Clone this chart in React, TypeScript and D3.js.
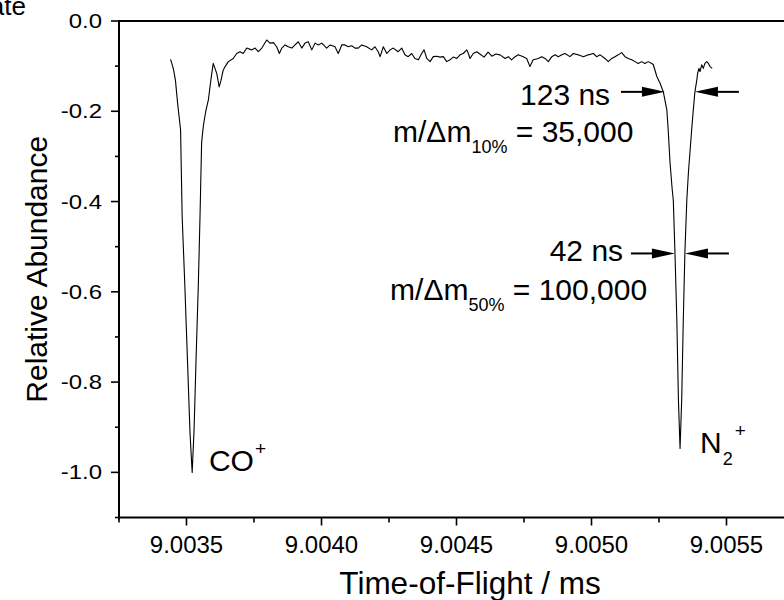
import React from "react";
import * as d3 from "d3";

const W = 784;
const H = 600;

// axes
const xDomain = [9.00325, 9.00575];
const yDomain = [-1.1, 0.0];
const xMajorTicks = [9.0035, 9.004, 9.0045, 9.005, 9.0055];
const xTickLabels = ["9.0035", "9.0040", "9.0045", "9.0050", "9.0055"];
const xMinorTicks = [9.00325, 9.00375, 9.00425, 9.00475, 9.00525, 9.00575];
const yMajorTicks = [0, -0.2, -0.4, -0.6, -0.8, -1.0];
const yTickLabels = ["0.0", "-0.2", "-0.4", "-0.6", "-0.8", "-1.0"];
const yMinorTicks = [-0.1, -0.3, -0.5, -0.7, -0.9, -1.1];
const xTitle = "Time-of-Flight / ms";
const yTitle = "Relative Abundance";

// CO+ peak region (time in ms, relative abundance)
const coTime = [
  9.003441, 9.003451, 9.003459, 9.003467, 9.003478, 9.003484, 9.003494, 9.003504,
  9.003513, 9.003521, 9.003528, 9.003535, 9.003544, 9.00355, 9.003556, 9.003562,
  9.003571, 9.003581, 9.003591, 9.003599, 9.003612, 9.003621, 9.003628, 9.003636,
];
const coValue = [
  -0.085, -0.105, -0.131, -0.182, -0.241, -0.434, -0.589, -0.758,
  -0.913, -1.0, -0.906, -0.758, -0.58, -0.434, -0.27, -0.234,
  -0.201, -0.175, -0.127, -0.094, -0.116, -0.146, -0.131, -0.109,
];

// baseline between the peaks
const baseTime = [
  9.003643, 9.003655, 9.003673, 9.003686, 9.003698, 9.00371, 9.003723, 9.003741,
  9.003754, 9.003766, 9.003779, 9.003797, 9.003809, 9.003822, 9.003834, 9.003844,
  9.003853, 9.003865, 9.003877, 9.00389, 9.003902, 9.003914, 9.003927, 9.003939,
  9.003951, 9.003964, 9.003976, 9.003988, 9.004001, 9.004019, 9.004032, 9.00405,
  9.004062, 9.004075, 9.004087, 9.004099, 9.004112, 9.004124, 9.004136, 9.004149,
  9.004167, 9.004186, 9.004198, 9.00421, 9.004217, 9.004229, 9.004242, 9.004254,
  9.004266, 9.004284, 9.004297, 9.004309, 9.004321, 9.004334, 9.004346, 9.004359,
  9.004371, 9.00438, 9.00439, 9.004402, 9.004414, 9.004427, 9.004439, 9.004451,
  9.004464, 9.004476, 9.004488, 9.004501, 9.004513, 9.004525, 9.004538, 9.004544,
  9.00455, 9.004562, 9.004575, 9.004584, 9.004602, 9.004617, 9.004631, 9.004646,
  9.004661, 9.00468, 9.004692, 9.004704, 9.004717, 9.004729, 9.004747, 9.00476,
  9.004772, 9.004784, 9.004803, 9.004816, 9.004828, 9.00484, 9.004853, 9.004865,
  9.004877, 9.00489, 9.004902, 9.00492, 9.004933, 9.004951, 9.00497, 9.004988,
  9.005007, 9.005019, 9.005032, 9.00505, 9.005062, 9.005075, 9.005087, 9.005099,
  9.005112, 9.005124, 9.005136, 9.005149, 9.005161, 9.005173, 9.005186, 9.005198,
  9.00521, 9.005223, 9.005229,
];
const baseValue = [
  -0.101, -0.09, -0.083, -0.072, -0.068, -0.072, -0.06, -0.064,
  -0.06, -0.068, -0.06, -0.042, -0.049, -0.048, -0.057, -0.072,
  -0.06, -0.053, -0.057, -0.06, -0.053, -0.046, -0.06, -0.049,
  -0.046, -0.064, -0.049, -0.053, -0.049, -0.06, -0.053, -0.057,
  -0.072, -0.053, -0.053, -0.057, -0.055, -0.06, -0.06, -0.053,
  -0.057, -0.064, -0.057, -0.068, -0.079, -0.057, -0.072, -0.064,
  -0.06, -0.068, -0.06, -0.075, -0.079, -0.072, -0.083, -0.086,
  -0.072, -0.064, -0.083, -0.09, -0.079, -0.078, -0.08, -0.079,
  -0.09, -0.086, -0.08, -0.083, -0.075, -0.072, -0.064, -0.072,
  -0.083, -0.072, -0.068, -0.072, -0.08, -0.069, -0.078, -0.073,
  -0.075, -0.083, -0.079, -0.086, -0.079, -0.075, -0.079, -0.083,
  -0.101, -0.086, -0.083, -0.079, -0.083, -0.09, -0.079, -0.075,
  -0.079, -0.075, -0.072, -0.079, -0.072, -0.075, -0.079, -0.075,
  -0.072, -0.079, -0.075, -0.083, -0.09, -0.083, -0.079, -0.075,
  -0.07, -0.079, -0.083, -0.086, -0.09, -0.094, -0.09, -0.094,
  -0.09, -0.094, -0.097,
];

// N2+ peak region
const n2Time = [
  9.005242, 9.005254, 9.005266, 9.005279, 9.005284, 9.005291, 9.005299, 9.005303,
  9.005309, 9.005316, 9.005322, 9.005328, 9.005334, 9.00534, 9.005346, 9.005353,
  9.005359, 9.005371, 9.005377, 9.005383, 9.00539, 9.005393, 9.005398, 9.005402,
  9.005408, 9.005414, 9.00542, 9.005427, 9.005433, 9.005439, 9.005447,
];
const n2Value = [
  -0.123, -0.138, -0.157, -0.197, -0.241, -0.315, -0.374, -0.397,
  -0.511, -0.662, -0.84, -0.947, -0.84, -0.662, -0.511, -0.397,
  -0.335, -0.241, -0.197, -0.157, -0.131, -0.116, -0.105, -0.112,
  -0.097, -0.105, -0.094, -0.09, -0.094, -0.101, -0.105,
];

// width annotations: left tip time, right tip time, level, label
const widthTipLeft = [9.005272, 9.005309];
const widthTipRight = [9.005383, 9.005346];
const widthLevel = [-0.157, -0.515];
const widthLabels = ["123 ns", "42 ns"];
const widthLabelPos = [
  [9.005069, -0.185],
  [9.005117, -0.532],
];
const resolutionSub = ["10%", "50%"];
const resolutionValue = ["35,000", "100,000"];
const resolutionPos = [
  [9.004265, -0.267],
  [9.004254, -0.618],
];
const peakLabelPos = [
  [9.003583, -0.998],
  [9.005402, -0.957],
];

const FONT = "'Liberation Sans', Arial, Helvetica, sans-serif";

export default function App() {
  const x = d3.scaleLinear().domain(xDomain).range([119, 794]);
  const y = d3.scaleLinear().domain(yDomain).range([517.5, 21]);

  const pts: [number, number][] = [];
  coTime.forEach((t, i) => pts.push([t, coValue[i]]));
  baseTime.forEach((t, i) => pts.push([t, baseValue[i]]));
  n2Time.forEach((t, i) => pts.push([t, n2Value[i]]));

  const line = d3
    .line<[number, number]>()
    .x((d) => x(d[0]))
    .y((d) => y(d[1]));

  const x0 = x(xDomain[0]);
  const yBot = y(yDomain[0]);
  const yTop = y(yDomain[1]);

  const head = 23;
  const hw = 5;
  const tail = 44;

  return (
    <svg
      width={W}
      height={H}
      style={{ position: "absolute", left: 0, top: 0, background: "#fff" }}
      fontFamily={FONT}
    >
      <rect x={0} y={0} width={W} height={H} fill="#fff" />
      {/* clipped caption fragment */}
      <text x={26} y={15} fontSize={26} textAnchor="end" fill="#000">
        Rate
      </text>

      {/* data */}
      <path d={line(pts) || ""} fill="none" stroke="#000" strokeWidth={1.1} strokeLinejoin="round" />

      {/* axes frame */}
      <line x1={x0} y1={yTop} x2={W + 20} y2={yTop} stroke="#000" strokeWidth={2} />
      <line x1={x0} y1={yBot} x2={W + 20} y2={yBot} stroke="#000" strokeWidth={2} />
      <line x1={x0} y1={yTop - 1} x2={x0} y2={yBot + 2} stroke="#000" strokeWidth={2} />

      {/* x ticks */}
      {xMajorTicks.map((t, i) => (
        <g key={"xm" + i}>
          <line x1={x(t)} x2={x(t)} y1={yBot} y2={yBot + 8} stroke="#000" strokeWidth={1.6} />
          <text x={x(t)} y={553} fontSize={24} textAnchor="middle" fill="#000">
            {xTickLabels[i]}
          </text>
        </g>
      ))}
      {xMinorTicks.map((t, i) => (
        <line key={"xn" + i} x1={x(t)} x2={x(t)} y1={yBot} y2={yBot + 5} stroke="#000" strokeWidth={1.6} />
      ))}

      {/* y ticks */}
      {yMajorTicks.map((v, i) => (
        <g key={"ym" + i}>
          <line x1={x0 - 8} x2={x0} y1={y(v)} y2={y(v)} stroke="#000" strokeWidth={1.6} />
          <text
            x={102}
            y={y(v) + 7}
            fontSize={24}
            textAnchor="end"
            fill="#000"
            transform={`translate(0 ${y(v) + 7}) scale(1 0.82) translate(0 ${-(y(v) + 7)})`}
          >
            {yTickLabels[i]}
          </text>
        </g>
      ))}
      {yMinorTicks.map((v, i) => (
        <line key={"yn" + i} x1={x0 - 4} x2={x0} y1={y(v)} y2={y(v)} stroke="#000" strokeWidth={1.6} />
      ))}

      {/* axis titles */}
      <text x={470} y={594} fontSize={31.5} textAnchor="middle" fill="#000">
        {xTitle}
      </text>
      <text
        transform={`translate(47 ${(yTop + yBot) / 2}) rotate(-90)`}
        fontSize={30}
        textAnchor="middle"
        fill="#000"
      >
        {yTitle}
      </text>

      {/* width arrows */}
      {widthLevel.map((v, i) => {
        const yy = y(v);
        const xl = x(widthTipLeft[i]);
        const xr = x(widthTipRight[i]);
        return (
          <g key={"wa" + i}>
            <line x1={xl - tail} x2={xl - head + 2} y1={yy} y2={yy} stroke="#000" strokeWidth={2} />
            <polygon points={`${xl},${yy} ${xl - head},${yy - hw} ${xl - head},${yy + hw}`} fill="#000" />
            <line x1={xr + tail} x2={xr + head - 2} y1={yy} y2={yy} stroke="#000" strokeWidth={2} />
            <polygon points={`${xr},${yy} ${xr + head},${yy - hw} ${xr + head},${yy + hw}`} fill="#000" />
            <text
              x={x(widthLabelPos[i][0])}
              y={y(widthLabelPos[i][1])}
              fontSize={30}
              textAnchor="end"
              fill="#000"
            >
              {widthLabels[i]}
            </text>
            <text
              x={x(resolutionPos[i][0])}
              y={y(resolutionPos[i][1])}
              fontSize={30}
              fill="#000"
              style={{ whiteSpace: "pre" }}
            >
              <tspan>m/Δm</tspan>
              <tspan fontSize={18} dy={11.5}>
                {resolutionSub[i]}
              </tspan>
              <tspan dy={-11.5}>{" = " + resolutionValue[i]}</tspan>
            </text>
          </g>
        );
      })}

      {/* peak labels */}
      <text x={x(peakLabelPos[0][0])} y={y(peakLabelPos[0][1])} fontSize={30} fill="#000">
        <tspan>CO</tspan>
        <tspan fontSize={19} dy={-16} dx={1}>
          +
        </tspan>
      </text>
      <text x={x(peakLabelPos[1][0])} y={y(peakLabelPos[1][1])} fontSize={30} fill="#000">
        <tspan>N</tspan>
        <tspan fontSize={18} dy={12} dx={1}>
          2
        </tspan>
        <tspan fontSize={19} dy={-28} dx={2}>
          +
        </tspan>
      </text>
    </svg>
  );
}
